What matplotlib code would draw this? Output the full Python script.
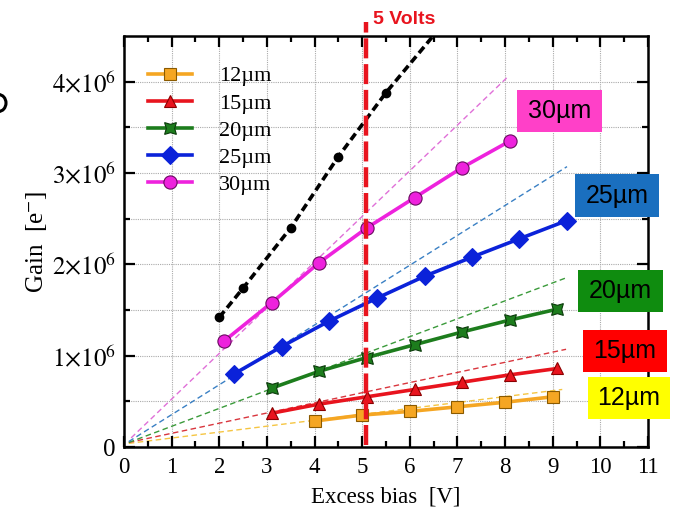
import matplotlib
matplotlib.use("Agg")
import matplotlib.pyplot as plt
from matplotlib.patches import Arc
import numpy as np

plt.rcParams['font.family'] = ['Liberation Serif', 'DejaVu Serif']
plt.rcParams['mathtext.fontset'] = 'stix'

# ---- data ----
labels = ["12µm", "15µm", "20µm", "25µm", "30µm"]
x12 = [4.0, 5.0, 6.0, 7.0, 8.0, 9.0]
y12 = [0.284e6, 0.35e6, 0.39e6, 0.44e6, 0.49e6, 0.55e6]
x15 = [3.1, 4.1, 5.1, 6.1, 7.1, 8.1, 9.1]
y15 = [0.37e6, 0.47e6, 0.55e6, 0.63e6, 0.71e6, 0.79e6, 0.86e6]
x20 = [3.1, 4.1, 5.1, 6.1, 7.1, 8.1, 9.1]
y20 = [0.645e6, 0.83e6, 0.98e6, 1.12e6, 1.26e6, 1.39e6, 1.51e6]
x25 = [2.31, 3.31, 4.31, 5.31, 6.31, 7.31, 8.3, 9.3]
y25 = [0.80e6, 1.10e6, 1.38e6, 1.63e6, 1.87e6, 2.08e6, 2.28e6, 2.48e6]
x30 = [2.1, 3.1, 4.1, 5.1, 6.1, 7.1, 8.1]
y30 = [1.16e6, 1.58e6, 2.02e6, 2.40e6, 2.73e6, 3.06e6, 3.35e6]
xblack = [2.0, 2.5, 3.5, 4.5, 5.5, 6.6]
yblack = [1.42e6, 1.74e6, 2.40e6, 3.18e6, 3.88e6, 4.57e6]
# linear fits (start, end)
fit_x = {"12": [0.1, 9.2], "15": [0.1, 9.28], "20": [0.1, 9.27], "25": [0.1, 9.3], "30": [0.15, 8.05]}
fit_y = {"12": [0.04e6, 0.63e6], "15": [0.05e6, 1.07e6], "20": [0.05e6, 1.85e6],
         "25": [0.06e6, 3.07e6], "30": [0.1e6, 4.05e6]}
vline_x = 5.08
xticks = list(range(0, 12))
yticks_major = [0, 1e6, 2e6, 3e6, 4e6]
ytick_labels = ["0", r"$1{\times}10^{6}$", r"$2{\times}10^{6}$", r"$3{\times}10^{6}$", r"$4{\times}10^{6}$"]

fig = plt.figure(figsize=(6.74, 5.16), dpi=100)
ax = fig.add_axes([0.184, 0.1337, 0.7774, 0.7965])
ax.set_xlim(0, 11)
ax.set_ylim(0, 4.5e6)

# grid
for gx in range(1, 11):
    ax.axvline(gx, color="#aaaaaa", lw=0.8, ls=(0, (1, 1)), zorder=0)
for gy in np.arange(0.5e6, 4.5e6, 0.5e6):
    ax.axhline(gy, color="#aaaaaa", lw=0.8, ls=(0, (1, 1)), zorder=0)

# fit lines
fitcols = {"12": "#f5c542", "15": "#d9363e", "20": "#3a9a3a", "25": "#3a80c4", "30": "#e070d8"}
for k in ["12", "15", "20", "25", "30"]:
    ax.plot(fit_x[k], fit_y[k], color=fitcols[k], lw=1.0, ls=(0, (4, 2.5)), zorder=1)

# black dashed
ax.plot(xblack, yblack, color="black", lw=2.6, ls=(0, (2.2, 1.2)), marker="o", ms=6,
        markevery=[0, 1, 2, 3, 4], zorder=3)

# series
series = [
    (x12, y12, "#f5a623", "s", "#8a5a00", 9, labels[0]),
    (x15, y15, "#e8141e", "^", "#8a0000", 9, labels[1]),
    (x20, y20, "#1d7d1d", (4, 1, 45), "#0a3a0a", 12, labels[2]),
    (x25, y25, "#0b22d9", "D", "#0b22d9", 9, labels[3]),
    (x30, y30, "#ee22dd", "o", "#6a0a60", 9.5, labels[4]),
]
handles = []
for xs, ys, c, m, ec, ms, lab in series:
    h, = ax.plot(xs, ys, color=c, lw=2.6, marker=m, ms=ms, mfc=c, mec=ec, mew=0.8,
                 label=lab, zorder=4)
    handles.append(h)

# vertical 5 volts line (extends above axes)
ax.plot([vline_x, vline_x], [0.02e6, 4.65e6], color="#e8141e", lw=3.2,
        ls=(0, (4.5, 1.3)), clip_on=False, zorder=5)
ax.text(vline_x + 0.14, 4.68e6, "5 Volts", color="#e8141e", fontsize=14, fontweight="bold",
        family="Liberation Sans", ha="left", va="center", clip_on=False)

# ticks
ax.set_xticks(xticks)
ax.set_xticks(np.arange(0.5, 11, 1.0), minor=True)
ax.set_yticks(yticks_major)
ax.set_yticklabels(ytick_labels)
ax.set_yticks(np.arange(0.5e6, 4.5e6, 1e6), minor=True)
ax.tick_params(which="both", direction="in", top=True, right=True, width=1.6)
ax.tick_params(axis="x", labelsize=16.5, pad=7)
ax.tick_params(axis="y", labelsize=18, pad=6)
ax.tick_params(which="major", length=8)
ax.tick_params(which="minor", length=4.5)
for s in ax.spines.values():
    s.set_linewidth(1.8)

ax.set_xlabel("Excess bias  [V]", fontsize=16.5, labelpad=6)
ax.set_ylabel(r"Gain  [e$^{-}$]", fontsize=18, labelpad=2)

leg = ax.legend(handles=handles, loc="upper left", bbox_to_anchor=(0.02, 0.96), frameon=False,
                fontsize=16, handlelength=2.0, handletextpad=1.2, labelspacing=0.3,
                borderaxespad=0.2)

# coloured labels boxes (figure pixel coordinates)
boxes = [
    ("30µm", 517, 90, 602, 132, "#ff40c8"),
    ("25µm", 575, 174, 659, 217, "#1a6fbf"),
    ("20µm", 578, 270, 663, 312, "#0f8c0f"),
    ("15µm", 583, 330, 667, 372, "#ff0000"),
    ("12µm", 588, 377, 670, 419, "#ffff00"),
]
W, H = 674, 516
for txt, x0, y0, x1, y1, col in boxes:
    r = plt.Rectangle((x0 / W, 1 - y1 / H), (x1 - x0) / W, (y1 - y0) / H,
                      transform=fig.transFigure, facecolor=col, edgecolor="none", zorder=10)
    fig.add_artist(r)
    fig.text((x0 + x1) / 2 / W, 1 - (y0 + y1) / 2 / H, txt, ha="center", va="center",
             fontsize=18, family="Liberation Sans", color="black", zorder=11)

# stray partial glyph at left edge (drawn as an arc)
fig.add_artist(Arc((-1.5 / W, 1 - 103 / H), 15 / W, 17 / H, theta1=-90, theta2=90,
                   transform=fig.transFigure, color="black", lw=2.2))

fig.savefig("out.png", dpi=100)
